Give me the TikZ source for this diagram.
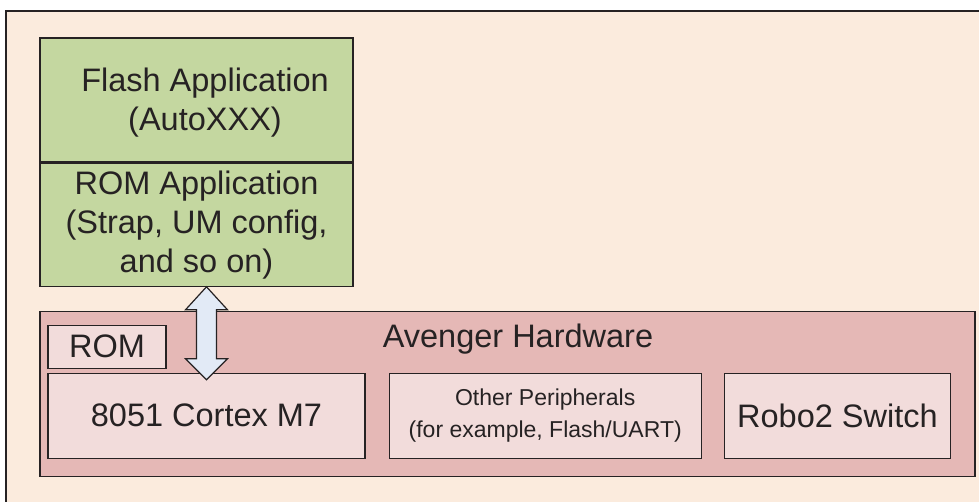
\documentclass[tikz,border=0pt]{standalone}
\usepackage{fontspec}
\setmainfont{Liberation Sans}
\usepackage{tikz}
\usetikzlibrary{positioning}
\definecolor{peach}{RGB}{251,235,221}
\definecolor{appgreen}{RGB}{196,215,160}
\definecolor{hwpink}{RGB}{229,184,182}
\definecolor{partpink}{RGB}{242,220,219}
\definecolor{busblue}{RGB}{226,234,246}
\definecolor{linegray}{RGB}{38,34,35}
\tikzset{box/.style={rectangle, draw=linegray, line width=1.2pt, inner sep=0pt, align=center, text=linegray},
bigtext/.style={font=\fontsize{32.5}{39}\selectfont, align=center, text=linegray, inner sep=0pt},
appbox/.style={box, bigtext, fill=appgreen, minimum width=313pt},
part/.style={box, bigtext, fill=partpink, minimum height=85pt},
bus/.style={draw=linegray, line width=1.2pt, fill=busblue, line join=miter}
}
\begin{document}
\begin{tikzpicture}[x=1pt, y=-1pt]
        \clip (0,0) rectangle (979,502);
        \draw[linegray, line width=1.6pt, fill=peach] (6,11) rectangle (1000,520);

        \node[appbox, minimum height=124pt] (flash)  at (196.5,100)     {};
        \node[bigtext, xshift=8.5pt, yshift=-2.8pt] (flashtext) at (flash) {Flash Application\\(AutoXXX)};
        \node[appbox, minimum height=123pt] (romapp) [below=0pt of flash] {ROM Application\\(Strap, UM config,\\and so on)};

        \node[box, fill=hwpink, minimum width=935pt, minimum height=165pt] (hw) at (507.5,394.2) {};
        \node[bigtext, anchor=base] (hwtitle) at (518,347.3) {Avenger Hardware};

        \node[part, minimum width=317pt] (cortex) at (206.5,415.8) {8051 Cortex M7};
        \node[part, minimum width=118pt, minimum height=43pt, anchor=south west] (rom) at ([yshift=4pt]cortex.north west) {ROM};
        \node[part, minimum width=312pt, font=\fontsize{23}{32}\selectfont] (periph) [right =23pt of cortex] {Other Peripherals\\(for example, Flash/UART)};
        \node[part, minimum width=226pt] (robo) [right =22pt of periph] {Robo2 Switch};

        \coordinate (bustop) at (romapp.south -| cortex.north);
        \draw[bus] (bustop) -- ++(21,23) -- ++(-11,0) -- ++(0,49) -- ++(11,0) -- ++(-21,21)
                   -- ++(-21,-21) -- ++(11,0) -- ++(0,-49) -- ++(-11,0) -- cycle;
\end{tikzpicture}
\end{document}
